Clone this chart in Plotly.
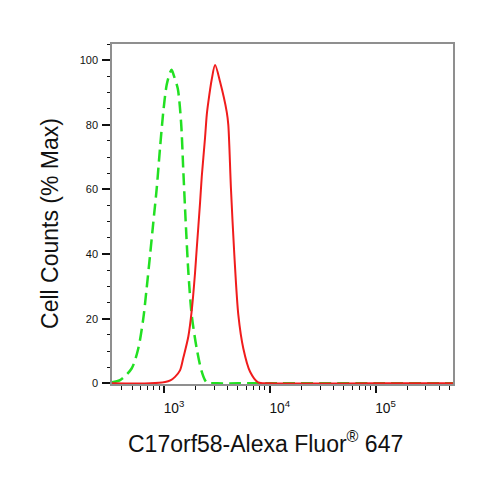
import plotly.graph_objects as go

# isotype control (green dashed) and C17orf58 stained cells (red solid)
ctrl_x = [322, 384, 494, 571, 637, 685, 738, 793, 853, 916, 984, 1059, 1140,
          1180, 1245, 1349, 1449, 1524, 1603, 1698, 1828, 2037, 2275, 2535,
          3200, 5000, 10000, 100000, 540000]
ctrl_y = [0.3, 1.0, 4.6, 10.8, 20.1, 29.4, 39.7, 50, 60.3, 72.7, 84, 92.3, 96.2,
          97, 95, 91.2, 80.9, 65.4, 50, 34.5, 21.1, 10.8, 3.6, 0.3,
          0, 0, 0, 0, 0]

pos_x = [322, 738, 1023, 1148, 1271, 1416, 1524, 1698, 1828, 1963, 2037, 2193,
         2275, 2443, 2535, 2624, 2825, 3041, 3388, 3917, 4055, 4295, 4624,
         5047, 5623, 6516, 7762, 10000, 100000, 540000]
pos_y = [0, 0, 0.4, 0.9, 2, 4, 8, 14.5, 22.5, 34, 41.5, 56,
         64, 76, 83, 87, 94, 98.5, 93.3, 84, 80, 60.3, 39.7,
         21.1, 10.8, 3.6, 0.3, 0, 0, 0]

y_ticks = [0, 20, 40, 60, 80, 100]

x_title = "C17orf58-Alexa Fluor<sup>®</sup> 647"
y_title = "Cell Counts (% Max)"

font_family = "Arial, Liberation Sans, sans-serif"

fig = go.Figure()
fig.add_trace(go.Scatter(
    x=ctrl_x, y=ctrl_y, mode="lines",
    line=dict(color="#22e022", width=2.5, dash="12px,6px", shape="spline", smoothing=0.8),
    showlegend=False, hoverinfo="skip"))
fig.add_trace(go.Scatter(
    x=pos_x, y=pos_y, mode="lines",
    line=dict(color="#f01c1c", width=2, shape="spline", smoothing=0.8),
    showlegend=False, hoverinfo="skip"))

fig.update_xaxes(
    type="log", range=[2.508, 5.733], dtick=1, exponentformat="power",
    showgrid=False, zeroline=False,
    showline=True, linecolor="#8f8f8f", linewidth=1.5, mirror=True,
    ticks="outside", ticklen=7, tickwidth=2, tickcolor="#111",
    ticklabelstandoff=4, ticklabelshift=10,
    tickfont=dict(family=font_family, size=11, color="#111"),
    minor=dict(ticks="outside", ticklen=4, tickwidth=1, tickcolor="#111", dtick="D1"),
)
fig.update_yaxes(
    range=[-0.2, 105], tickvals=y_ticks,
    showgrid=False, zeroline=False,
    showline=True, linecolor="#8f8f8f", linewidth=1.5, mirror=True,
    ticks="outside", ticklen=8, tickwidth=2, tickcolor="#111",
    ticklabelstandoff=2,
    tickfont=dict(family=font_family, size=11, color="#111"),
    minor=dict(ticks="outside", ticklen=3, tickwidth=1, tickcolor="#111", dtick=5),
)

# the page body keeps an 8px margin, so the margins are shifted by it
fig.update_layout(
    width=479, height=477,
    margin=dict(l=104, r=34, t=36, b=101),
    paper_bgcolor="white", plot_bgcolor="white",
    font=dict(family=font_family, color="#111"),
    annotations=[
        dict(text=x_title, xref="paper", yref="paper", x=0.449, y=-0.172,
             xanchor="center", yanchor="middle", showarrow=False,
             font=dict(size=23, color="#111")),
        dict(text=y_title, xref="paper", yref="paper", x=-0.182, y=0.4735,
             xanchor="center", yanchor="middle", textangle=-90, showarrow=False,
             font=dict(size=23, color="#111")),
    ],
)

fig.write_html("out.html")
